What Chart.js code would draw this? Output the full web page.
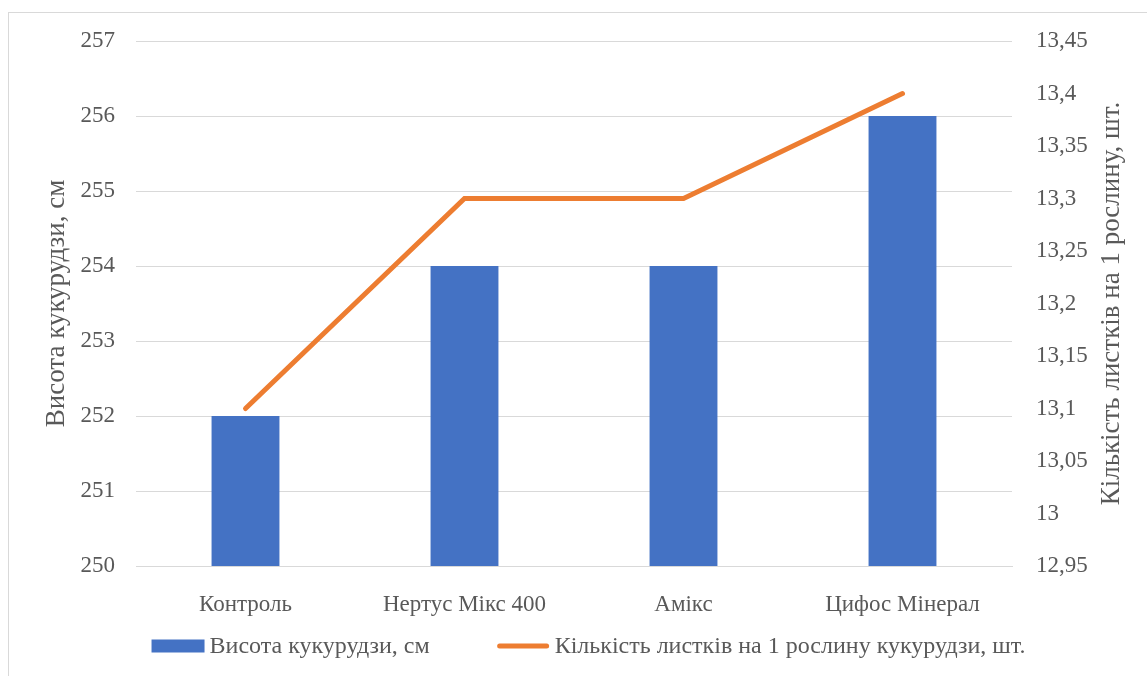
<!DOCTYPE html>
<html lang="uk">
<head>
<meta charset="utf-8">
<title>Висота кукурудзи</title>
<script src="https://cdn.jsdelivr.net/npm/chart.js@4.4.1/dist/chart.umd.min.js"></script>
<style>
    html, body { margin: 0; padding: 0; background: #fff; }
    #wrap { position: relative; width: 1147px; height: 676px; overflow: hidden; }
    #frame { position: absolute; left: 8px; top: 12px; width: 1200px; height: 700px;
             border-left: 1px solid #d9d9d9; border-top: 1px solid #d9d9d9; }
    #chart { position: absolute; left: 0; top: 0; }
</style>
</head>
<body>
<div id="wrap">
    <div id="frame"></div>
    <canvas id="chart" width="1147" height="676"></canvas>
</div>
<script>
// Chart data
const categories = ['Контроль', 'Нертус Мікс 400', 'Амікс', 'Цифос Мінерал'];
const heightValues = [252, 254, 254, 256];
const leafValues = [13.1, 13.3, 13.3, 13.4];
const heightTicks = [250, 251, 252, 253, 254, 255, 256, 257];
const leafTicks = [12.95, 13, 13.05, 13.1, 13.15, 13.2, 13.25, 13.3, 13.35, 13.4, 13.45];
const heightLabel = 'Висота кукурудзи, см';
const leafLabel = 'Кількість листків на 1 рослину кукурудзи, шт.';
const leafAxisTitle = 'Кількість листків на 1 рослину, шт.';

const textColor = '#595959';
const gridColor = '#d9d9d9';
const barColor = '#4472c4';
const lineColor = '#ed7d31';
const fontFamily = '"Liberation Serif", "Times New Roman", serif';

// Format number with comma as decimal separator
function formatComma(value) {
    return String(Math.round(value * 100) / 100).replace('.', ',');
}

// Right axis title reads bottom-to-top, like the left one
const rightTitlePlugin = {
    id: 'rightTitle',
    afterDraw(chart, args, opts) {
        const scale = chart.scales.y1;
        const ctx = chart.ctx;
        const area = chart.chartArea;
        ctx.save();
        ctx.translate(scale.right - opts.offset, (area.top + area.bottom) / 2);
        ctx.rotate(-Math.PI / 2);
        ctx.fillStyle = textColor;
        ctx.font = opts.size + 'px ' + fontFamily;
        ctx.textAlign = 'center';
        ctx.textBaseline = 'middle';
        ctx.fillText(opts.text, 0, 0);
        ctx.restore();
    }
};

// Legend at the bottom, drawn from the dataset labels
const bottomLegendPlugin = {
    id: 'bottomLegend',
    afterDraw(chart, args, opts) {
        const ctx = chart.ctx;
        const datasets = chart.data.datasets;
        ctx.save();
        ctx.font = opts.size + 'px ' + fontFamily;
        const widths = datasets.map(ds => opts.boxWidth + opts.textGap + ctx.measureText(ds.label).width);
        const total = widths.reduce((a, b) => a + b, 0) + opts.itemGap * (datasets.length - 1);
        let x = chart.width / 2 + opts.shift - total / 2;
        const y = chart.scales.x.bottom - opts.fromBottom;
        datasets.forEach((ds, i) => {
            if (ds.type === 'line') {
                ctx.strokeStyle = ds.borderColor;
                ctx.lineWidth = ds.borderWidth;
                ctx.lineCap = 'round';
                ctx.beginPath();
                ctx.moveTo(x + 3, y);
                ctx.lineTo(x + opts.boxWidth - 3, y);
                ctx.stroke();
            } else {
                ctx.fillStyle = ds.backgroundColor;
                ctx.fillRect(x, y - opts.boxHeight / 2, opts.boxWidth, opts.boxHeight);
            }
            ctx.fillStyle = textColor;
            ctx.textAlign = 'left';
            ctx.textBaseline = 'middle';
            ctx.fillText(ds.label, x + opts.boxWidth + opts.textGap, y + 1);
            x += widths[i] + opts.itemGap;
        });
        ctx.restore();
    }
};

function createChart() {
    const ctx = document.getElementById('chart').getContext('2d');
    new Chart(ctx, {
        type: 'bar',
        data: {
            labels: categories,
            datasets: [{
                type: 'bar',
                label: heightLabel,
                data: heightValues,
                backgroundColor: barColor,
                yAxisID: 'y',
                order: 1,
                barPercentage: 0.31,
                categoryPercentage: 1
            }, {
                type: 'line',
                label: leafLabel,
                data: leafValues,
                borderColor: lineColor,
                backgroundColor: lineColor,
                borderWidth: 5,
                borderCapStyle: 'round',
                pointRadius: 0,
                tension: 0,
                yAxisID: 'y1',
                order: 0
            }]
        },
        plugins: [rightTitlePlugin, bottomLegendPlugin],
        options: {
            responsive: false,
            animation: false,
            layout: { padding: { top: 41, bottom: 0 } },
            plugins: {
                tooltip: { enabled: false },
                legend: { display: false },
                rightTitle: { text: leafAxisTitle, size: 27, offset: 35 },
                bottomLegend: {
                    size: 24, boxWidth: 53, boxHeight: 13,
                    textGap: 5, itemGap: 67, shift: 15, fromBottom: 30
                }
            },
            scales: {
                x: {
                    grid: { display: false },
                    border: { display: true, color: gridColor, width: 1 },
                    ticks: {
                        color: textColor,
                        padding: 17,
                        maxRotation: 0,
                        font: { family: fontFamily, size: 23 }
                    },
                    afterFit: axis => { axis.height = 110; }
                },
                y: {
                    position: 'left',
                    min: 250,
                    max: 257,
                    afterBuildTicks: axis => { axis.ticks = heightTicks.map(v => ({ value: v })); },
                    grid: { color: gridColor, drawTicks: false },
                    border: { display: false },
                    ticks: {
                        color: textColor,
                        padding: 21,
                        font: { family: fontFamily, size: 23 }
                    },
                    title: {
                        display: true,
                        text: heightLabel,
                        color: textColor,
                        padding: { top: 41, bottom: 0 },
                        font: { family: fontFamily, size: 27 }
                    },
                    afterFit: axis => { axis.width = 136; }
                },
                y1: {
                    position: 'right',
                    min: 12.95,
                    max: 13.45,
                    afterBuildTicks: axis => { axis.ticks = leafTicks.map(v => ({ value: v })); },
                    grid: { display: false, drawTicks: false },
                    border: { display: false },
                    ticks: {
                        color: textColor,
                        padding: 24,
                        font: { family: fontFamily, size: 23 },
                        callback: value => formatComma(value)
                    },
                    afterFit: axis => { axis.width = 135; }
                }
            }
        }
    });
}

document.addEventListener('DOMContentLoaded', createChart);
</script>
</body>
</html>
